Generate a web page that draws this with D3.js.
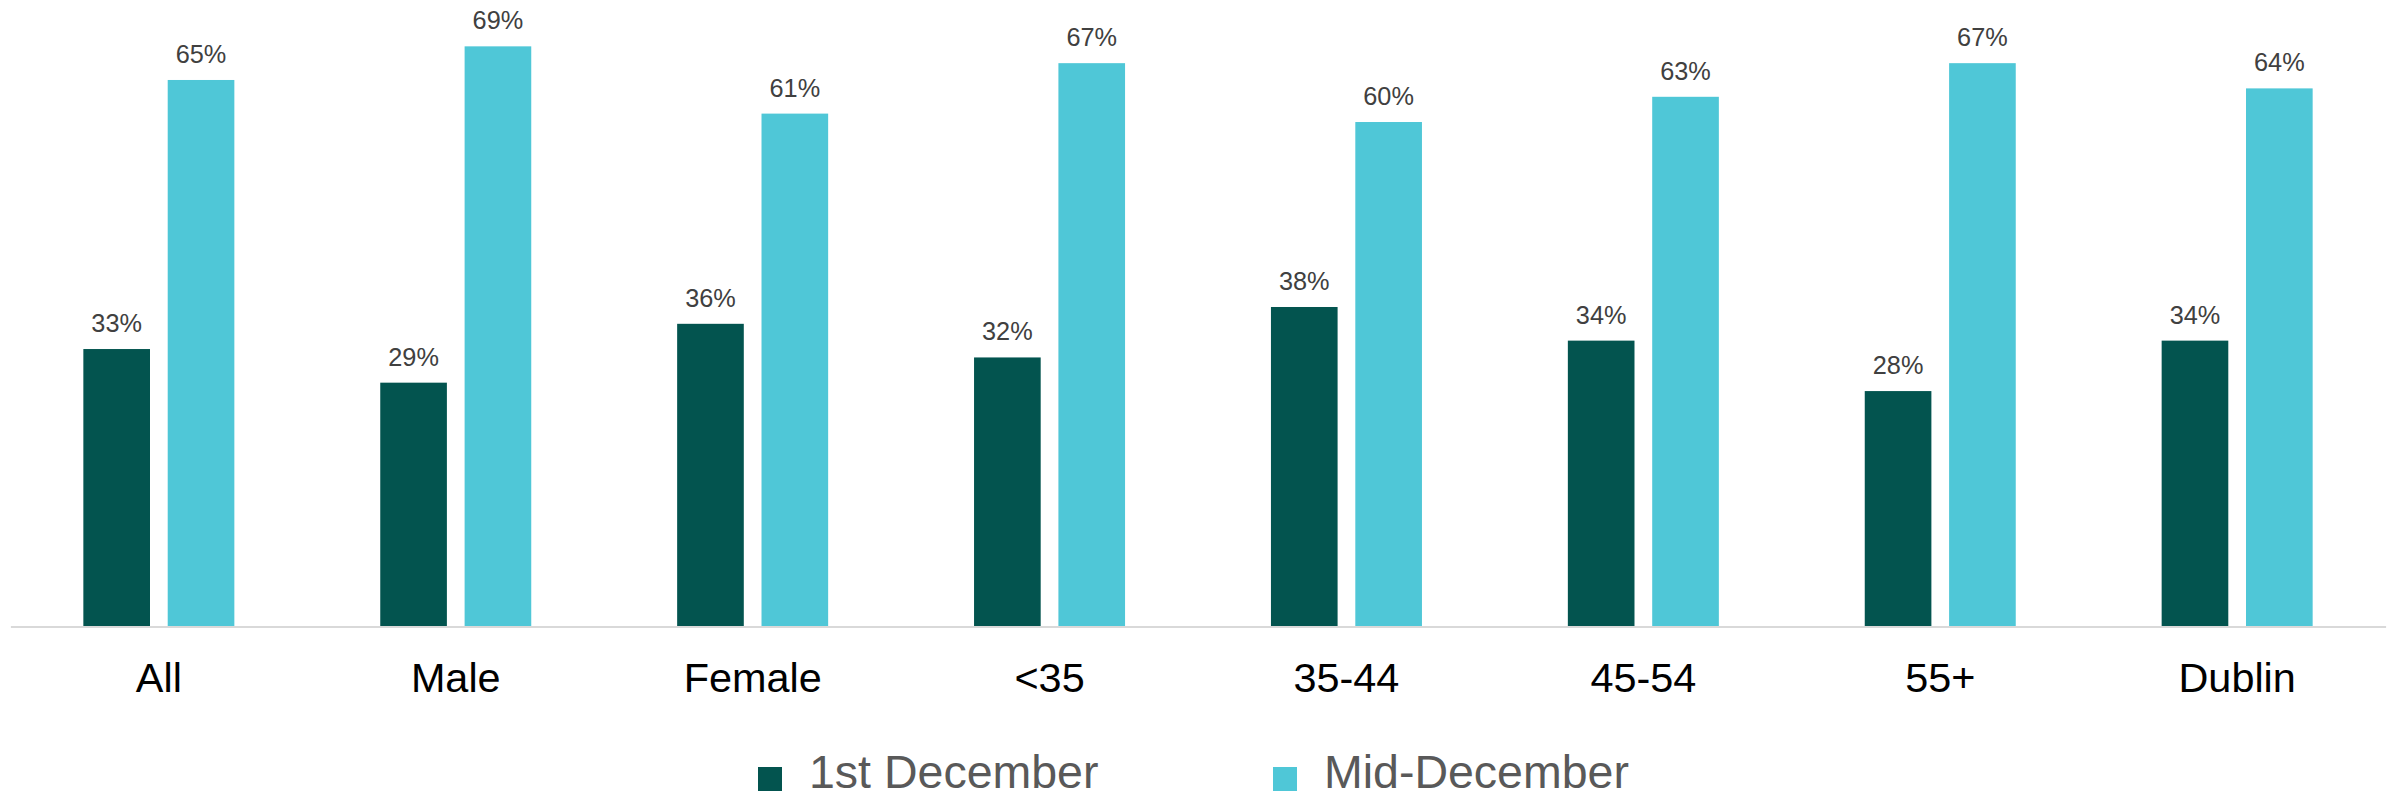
<!DOCTYPE html>
<html>
<head>
<meta charset="utf-8">
<script src="https://cdn.jsdelivr.net/npm/d3@7"></script>
<style>
  html, body { margin: 0; padding: 0; background: #ffffff; }
  svg { display: block; }
</style>
</head>
<body>
<svg id="chart" width="2394" height="798"></svg>
<script>
const categories = ["All", "Male", "Female", "<35", "35-44", "45-54", "55+", "Dublin"];
const seriesNames = ["1st December", "Mid-December"];
const firstDecember = [33, 29, 36, 32, 38, 34, 28, 34];
const midDecember = [65, 69, 61, 67, 60, 63, 67, 64];
const seriesColors = ["#03544f", "#4fc7d7"];

const seriesValues = [firstDecember, midDecember];
const data = categories.map((c, i) => ({
  category: c,
  values: seriesNames.map((s, j) => ({ series: s, value: seriesValues[j][i] }))
}));

const svg = d3.select("#chart");
const font = "'Liberation Sans', Arial, sans-serif";

const plotLeft = 10.4, plotRight = 2385.6, baseY = 626.5;

const x0 = d3.scaleBand().domain(categories).range([plotLeft, plotRight]).paddingInner(0).paddingOuter(0);
const bw = x0.bandwidth();
const x1 = d3.scaleBand().domain(seriesNames).range([bw * 0.2457, bw * 0.7543]).paddingInner(0.21).paddingOuter(0);
const y = d3.scaleLinear().domain([0, 70]).range([baseY, baseY - 70 * 8.408]);
const color = d3.scaleOrdinal().domain(seriesNames).range(seriesColors);

// bars
const groups = svg.append("g").selectAll("g")
  .data(data).join("g")
  .attr("transform", d => `translate(${x0(d.category)},0)`);

groups.selectAll("rect")
  .data(d => d.values).join("rect")
  .attr("x", d => x1(d.series))
  .attr("width", x1.bandwidth())
  .attr("y", d => y(d.value))
  .attr("height", d => y(0) - y(d.value))
  .attr("fill", d => color(d.series));

groups.selectAll("text")
  .data(d => d.values).join("text")
  .attr("x", d => x1(d.series) + x1.bandwidth() / 2)
  .attr("y", d => y(d.value) - 17)
  .attr("text-anchor", "middle")
  .attr("font-family", font)
  .attr("font-size", 25.3)
  .attr("fill", "#404040")
  .text(d => d.value + "%");

// axis
const axis = svg.append("g")
  .attr("transform", `translate(0,${baseY})`)
  .call(d3.axisBottom(x0).tickSize(0).tickSizeOuter(0).tickPadding(0));
axis.select(".domain").attr("stroke", "#d9d9d9").attr("stroke-width", 2.2);
axis.selectAll(".tick text")
  .attr("dy", null)
  .attr("y", 65.2)
  .attr("font-family", font)
  .attr("font-size", 41.4)
  .attr("fill", "#000000");

// legend
const legendX = [758, 1273];
const legend = svg.append("g").selectAll("g")
  .data(seriesNames).join("g")
  .attr("transform", (d, i) => `translate(${legendX[i]},0)`);
legend.append("rect")
  .attr("x", 0).attr("y", 767)
  .attr("width", 24).attr("height", 24)
  .attr("fill", d => color(d));
legend.append("text")
  .attr("x", 51).attr("y", 788)
  .attr("font-family", font)
  .attr("font-size", 46.5)
  .attr("fill", "#595959")
  .text(d => d);
</script>
</body>
</html>
